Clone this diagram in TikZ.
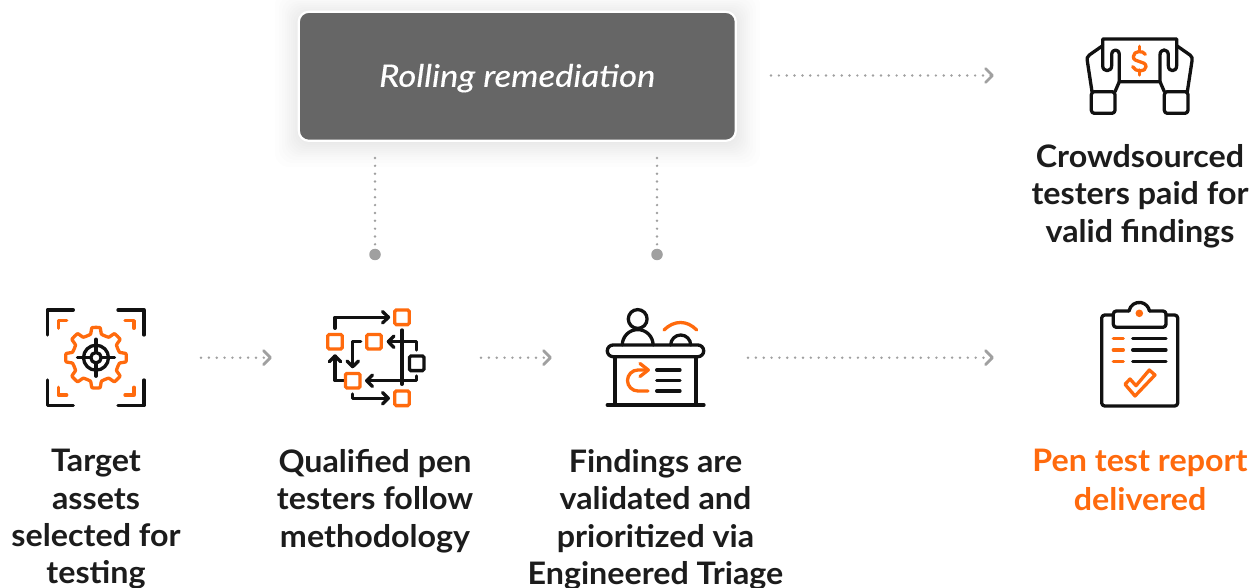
\documentclass[tikz,border=0pt]{standalone}
\usepackage{fontspec}
\setmainfont{Lato}[FakeStretch=1.04]
\newfontfamily\rollfont{Lato}[FakeStretch=1.12,FakeBold=0.25]
\usetikzlibrary{calc}
\definecolor{ink}{HTML}{111111}
\definecolor{txt}{HTML}{1C1C1C}
\definecolor{org}{HTML}{FF6A0D}
\definecolor{gry}{HTML}{A0A0A0}
\definecolor{boxg}{HTML}{666666}
\tikzset{
  x=1pt,y=-1pt,
  blk/.style={draw=ink,line width=3.3pt,line cap=round,line join=round},
  orn/.style={draw=org,line width=3.3pt,line cap=round,line join=round},
  osq/.style={draw=org,line width=3.3pt,rounded corners=1.5pt},
  dotline/.style={draw=gry,line width=2.7pt,line cap=round,dash pattern=on 0pt off 7.85pt},
  chev/.style={draw=gry,line width=2.8pt,line join=round,line cap=round},
  enddot/.style={circle,fill=gry,inner sep=0pt,minimum size=11.5pt},
  lbl/.style={font=\fontsize{31}{37.4}\selectfont\bfseries,text=txt,align=center,inner sep=0pt,anchor=north},
  lblorg/.style={font=\fontsize{31}{39.2}\selectfont\bfseries,text=org,align=center,inner sep=0pt,anchor=north},
}
\newcommand{\dotarrow}[2]{%
  \draw[dotline] (#1) -- (#2);
  \draw[chev] ($(#2)+(-7,-7)$) -- ($(#2)+(0,0)$) -- ($(#2)+(-7,7)$);}
\begin{document}
\begin{tikzpicture}
\useasboundingbox (0,0) rectangle (1259,588);
\fill[white] (0,0) rectangle (1259,588);
% shadow
\foreach \r in {24,20,17,14,12,10,8,6,4,2,0}{
  \fill[black,opacity=0.007,rounded corners=14pt] (299-\r,15-\r) rectangle (736+\r,143+\r);
}
\node[draw=white,line width=2.2pt,fill=boxg,rounded corners=10pt,minimum width=437pt,minimum height=129pt,inner sep=0pt,
  font=\rollfont\fontsize{31}{36}\selectfont\itshape,text=white] (roll) at (517.3,76.3) {\raisebox{-10.5pt}[0pt][0pt]{Rolling remediation}};
% connectors from the box
\coordinate (rollR) at (771,75.5);
\coordinate (rollRe) at (992.5,75.5);
\dotarrow{rollR}{rollRe}
\coordinate (v1) at (375,158);
\coordinate (v2) at (657,158);
\node[enddot] (d1) at (375,254.5) {};
\node[enddot] (d2) at (657,254.5) {};
\draw[dotline] (v1) -- (d1.north);
\draw[dotline] (v2) -- (d2.north);
% horizontal arrows
\coordinate (a1) at (201,357.7); \coordinate (a1e) at (270.5,357.7);
\coordinate (a2) at (481,357.7); \coordinate (a2e) at (550.5,357.7);
\coordinate (a3) at (748,357.7); \coordinate (a3e) at (992.5,357.7);
\dotarrow{a1}{a1e}
\dotarrow{a2}{a2e}
\dotarrow{a3}{a3e}
% icon 1
\draw[blk] (47.3,335)--(47.3,310)--(73.3,310);
\draw[blk] (118,310)--(144,310)--(144,335);
\draw[blk] (47.3,380)--(47.3,405.5)--(73.3,405.5);
\draw[blk] (118,405.5)--(144,405.5)--(144,380);
\draw[orn] (58.3,328.3)--(58.3,320.7)--(66.7,320.7);
\draw[orn] (125,320.7)--(134,320.7)--(134,328.3);
\draw[orn] (58.3,387.3)--(58.3,395)--(66.7,395);
\draw[orn] (125,395)--(134,395)--(134,387.3);
\begin{scope}[shift={(96,357.7)}]
  \draw[orn] plot[smooth cycle,tension=0.25] coordinates {
   (-5.5,-23.5)(-4,-30)(4,-30)(5.5,-23.5)
   (12.7,-20.5)(18.4,-24)(24,-18.4)(20.5,-12.7)
   (23.5,-5.5)(30,-4)(30,4)(23.5,5.5)
   (20.5,12.7)(24,18.4)(18.4,24)(12.7,20.5)
   (5.5,23.5)(4,30)(-4,30)(-5.5,23.5)
   (-12.7,20.5)(-18.4,24)(-24,18.4)(-20.5,12.7)
   (-23.5,5.5)(-30,4)(-30,-4)(-23.5,-5.5)
   (-20.5,-12.7)(-24,-18.4)(-18.4,-24)(-12.7,-20.5)};
  \draw[blk] (0,0) circle[radius=12.5];
  \draw[blk] (0,0) circle[radius=5.2];
  \draw[blk] (0,-18.5)--(0,-5.2) (0,5.2)--(0,18.5) (-18.5,0)--(-5.2,0) (5.2,0)--(18.5,0);
\end{scope}
% icon 2
\draw[blk] (335,328.3)--(335,317.3)--(388.3,317.3);
\draw[blk] (382.5,311.5)--(388.5,317.3)--(382.5,323);
\draw[blk] (402,330)--(402,384.3);
\draw[blk] (416.7,350)--(416.7,341.7)--(388.3,341.7);
\draw[blk] (394,336)--(388.3,341.7)--(394,347.5);
\draw[blk] (416.7,376)--(416.7,380.7)--(366.7,380.7);
\draw[blk] (372.5,375)--(366.7,380.7)--(372.5,386.5);
\draw[blk] (360.7,341.7)--(352.7,341.7)--(352.7,366.7);
\draw[blk] (347,361)--(352.7,366.7)--(358.5,361);
\draw[blk] (344.3,380.7)--(335,380.7)--(335,356);
\draw[blk] (329.3,361.7)--(335,356)--(340.7,361.7);
\draw[blk] (352.7,394)--(352.7,398.3)--(388.3,398.3);
\draw[blk] (382.5,392.5)--(388.3,398.3)--(382.5,404);
\foreach \c in {(402,317.3),(335,341.7),(374,341.7),(352.7,380.7),(402,398.3)}{
  \draw[osq,fill=white] \c ++(-7.3,-7.3) rectangle ++(14.6,14.6);
}
\draw[draw=ink,line width=3.3pt,rounded corners=1.5pt,fill=white] (409.4,356) rectangle (424,370.6);
% icon 3
\draw[blk] (637.7,319) circle[radius=9.4];
\draw[blk] (622.3,345) arc[start angle=180,end angle=360,radius=15.4];
\draw[blk] (670.7,345) arc[start angle=180,end angle=360,radius=10];
\draw[orn] (664,330) .. controls (674,320) and (687,320) .. (696.7,330);
\draw[blk,rounded corners=5.8pt] (607.3,345) rectangle (703.7,356.7);
\draw[blk] (615,356.7)--(615,405) (696,356.7)--(696,405);
\draw[blk] (607.3,405)--(704,405);
\draw[orn] (648,391)--(638,391) arc[start angle=90,end angle=270,radius=10.5]--(648,370);
\draw[orn] (640,363.5)--(648.3,370)--(640,376.5);
\draw[blk] (656.7,370)--(680,370) (656.7,380.7)--(680,380.7) (656.7,391)--(680,391);
% icon 4
\draw[blk,rounded corners=3pt] (1113.3,315)--(1101.7,315)--(1101.7,406)--(1177.7,406)--(1177.7,315)--(1166,315);
\draw[blk,rounded corners=3pt] (1129,311)--(1113.3,311)--(1113.3,327.3)--(1166,327.3)--(1166,311)--(1149.6,311);
\draw[blk] (1129,311) arc[start angle=190,end angle=350,radius=10.4];
\fill[org] (1139.3,313.3) circle[radius=3.8];
\draw[orn] (1113.3,338.3)--(1123.3,338.3) (1113.3,350)--(1123.3,350) (1113.3,361.7)--(1123.3,361.7);
\draw[blk] (1132.7,338.3)--(1166,338.3) (1132.7,350)--(1166,350) (1132.7,361.7)--(1166,361.7);
\draw[orn] (1135,396)--(1125,384.3)--(1130,379)--(1136,385.7)--(1149.3,370)--(1155,375)--cycle;
% icon 5
\begin{scope}[shift={(1070,25)},x=0.3333pt,y=-0.3333pt]
  \draw[blk] (98,42)--(98,122) .. controls (98,142) and (125,142) .. (125,122) -- (125,90) .. controls (125,70) and (148,70) .. (148,90) -- (148,170) -- (270,170) -- (270,90) .. controls (270,70) and (295,70) .. (295,90) -- (295,122) .. controls (295,142) and (320,142) .. (320,122) -- (320,42) -- cycle;
  \draw[blk] (98,62)--(58,90) .. controls (52,95) and (50,100) .. (52,108) -- (66,200);
  \draw[blk] (320,62)--(360,90) .. controls (366,95) and (368,100) .. (366,108) -- (352,200);
  \draw[blk] (148,170)--(135,200);
  \draw[blk] (270,170)--(283,200);
  \draw[blk,rounded corners=3pt] (64,200) rectangle (135,265);
  \draw[blk,rounded corners=3pt] (283,200) rectangle (354,265);
  \draw[orn] (226,88) .. controls (220,76) and (190,76) .. (190,95) .. controls (190,115) and (228,105) .. (228,125) .. controls (228,142) and (195,142) .. (188,125);
  \draw[orn] (208,64)--(208,78) (208,135)--(208,150);
\end{scope}
% labels
\node[lbl] (t1) at (96,449) {Target\\assets\\selected for\\testing};
\node[lbl] (t2) at (375,449) {Qualified pen\\testers follow\\methodology};
\node[lbl] (t3) at (655.5,449) {Findings are\\validated and\\prioritized via\\Engineered Triage};
\node[lblorg] (t4) at (1140,449) {Pen test report\\delivered};
\node[lbl] (t5) at (1140,144) {Crowdsourced\\testers paid for\\valid findings};
\end{tikzpicture}
\end{document}
